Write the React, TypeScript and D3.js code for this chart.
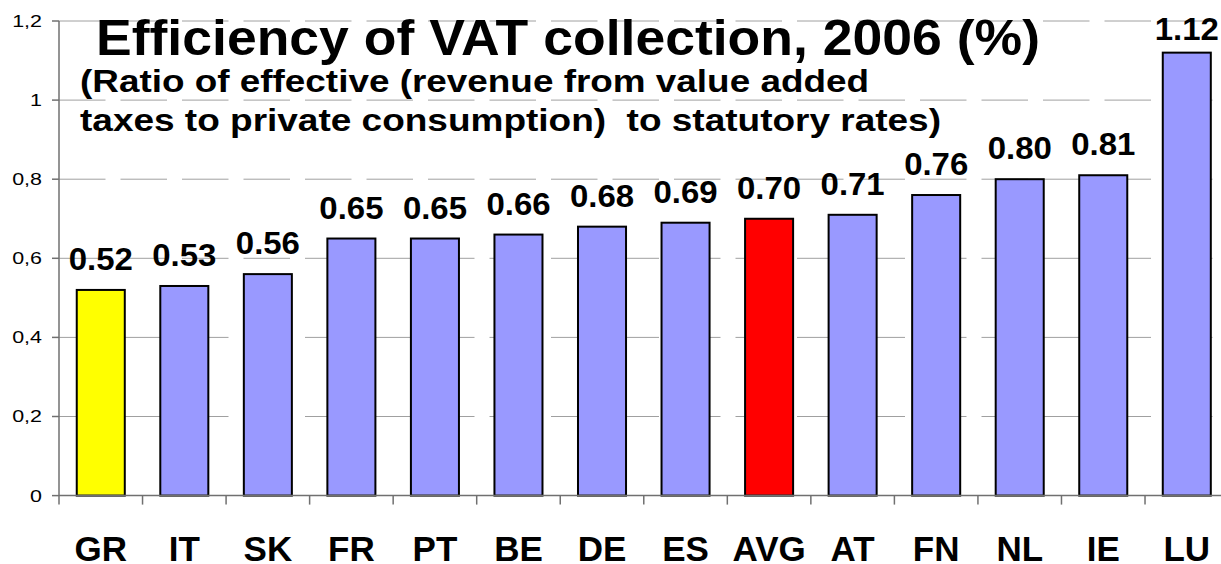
import React from 'react';
import * as d3 from 'd3';

const categories = ['GR', 'IT', 'SK', 'FR', 'PT', 'BE', 'DE', 'ES', 'AVG', 'AT', 'FN', 'NL', 'IE', 'LU'];
const values = [0.52, 0.53, 0.56, 0.65, 0.65, 0.66, 0.68, 0.69, 0.70, 0.71, 0.76, 0.80, 0.81, 1.12];
const valueLabels = ['0.52', '0.53', '0.56', '0.65', '0.65', '0.66', '0.68', '0.69', '0.70', '0.71', '0.76', '0.80', '0.81', '1.12'];
const yTicks = [0, 0.2, 0.4, 0.6, 0.8, 1, 1.2];
const highlight: Record<string, string> = { GR: '#ffff00', AVG: '#ff0000' };

const title = 'Efficiency of VAT collection, 2006 (%)';
const subtitle = [
  '(Ratio of effective (revenue from value added',
  'taxes to private consumption)  to statutory rates)',
];

const FONT = '"Liberation Sans", Arial, sans-serif';

const App = () => {
  const width = 1221;
  const height = 564;
  const left = 59;
  const step = 83.54;

  const x = d3.scaleBand<string>()
    .domain(categories)
    .range([left, left + step * categories.length])
    .paddingInner(0.425)
    .paddingOuter(0.2125);
  const y = d3.scaleLinear().domain([0, 1.2]).range([495.6, 21]);

  const gap = (x.step() - x.bandwidth()) / 2;
  const boundaries = categories.map((c) => (x(c) as number) - gap);
  const yMax = y(1.2);

  return (
    <svg width={width} height={height} style={{ position: 'absolute', left: 0, top: 0 }} fontFamily={FONT}>
      <rect width={width} height={height} fill="#fff" />

      {/* gridlines */}
      {yTicks.filter((t) => t > 0).map((t) => (
        <line key={t} x1={left} x2={width} y1={y(t)} y2={y(t)} stroke="#a0a0a0" strokeWidth={1} strokeDasharray="46.5,15" />
      ))}

      {/* bars */}
      {categories.map((c, i) => (
        <rect
          key={c}
          x={x(c)}
          y={y(values[i])}
          width={x.bandwidth()}
          height={y(0) - y(values[i])}
          fill={highlight[c] || '#9999ff'}
          stroke="#000"
          strokeWidth={2}
        />
      ))}

      {/* y axis */}
      <line x1={left} x2={left} y1={yMax} y2={y(0)} stroke="#707070" strokeWidth={1.5} />
      {yTicks.map((t) => (
        <g key={t} transform={`translate(0,${y(t)})`}>
          <line x1={52} x2={left} stroke="#707070" strokeWidth={1.5} />
          <text
            transform="translate(42,0) scale(1.3,1)"
            textAnchor="end"
            dy="0.36em"
            fontSize={16.5}
            fill="#000"
          >
            {String(t).replace('.', ',')}
          </text>
        </g>
      ))}

      {/* x axis */}
      <line x1={left} x2={width} y1={y(0)} y2={y(0)} stroke="#707070" strokeWidth={1.5} />
      {boundaries.map((bx, i) => (
        <line key={i} x1={bx} x2={bx} y1={y(0)} y2={y(0) + 9} stroke="#707070" strokeWidth={1.5} />
      ))}
      {categories.map((c) => (
        <text
          key={c}
          x={(x(c) as number) + x.bandwidth() / 2}
          y={561}
          textAnchor="middle"
          fontSize={35}
          fontWeight="bold"
        >
          {c}
        </text>
      ))}

      {/* value labels */}
      {categories.map((c, i) => {
        const cx = (x(c) as number) + x.bandwidth() / 2;
        const by = Math.max(y(values[i]) - 20, yMax + 19);
        return (
          <text
            key={c}
            transform={`translate(${cx},${by}) scale(1.08,1)`}
            textAnchor="middle"
            fontSize={30.5}
            fontWeight="bold"
          >
            {valueLabels[i]}
          </text>
        );
      })}

      {/* titles */}
      <text x={96} y={55} fontSize={50} fontWeight="bold" textLength={944} lengthAdjust="spacingAndGlyphs">
        {title}
      </text>
      {subtitle.map((s, i) => (
        <text
          key={i}
          x={80}
          y={92 + i * 39}
          fontSize={31}
          fontWeight="bold"
          textLength={i === 0 ? 789 : 861}
          lengthAdjust="spacingAndGlyphs"
          style={{ whiteSpace: 'pre' }}
        >
          {s}
        </text>
      ))}
    </svg>
  );
};

export default App;
